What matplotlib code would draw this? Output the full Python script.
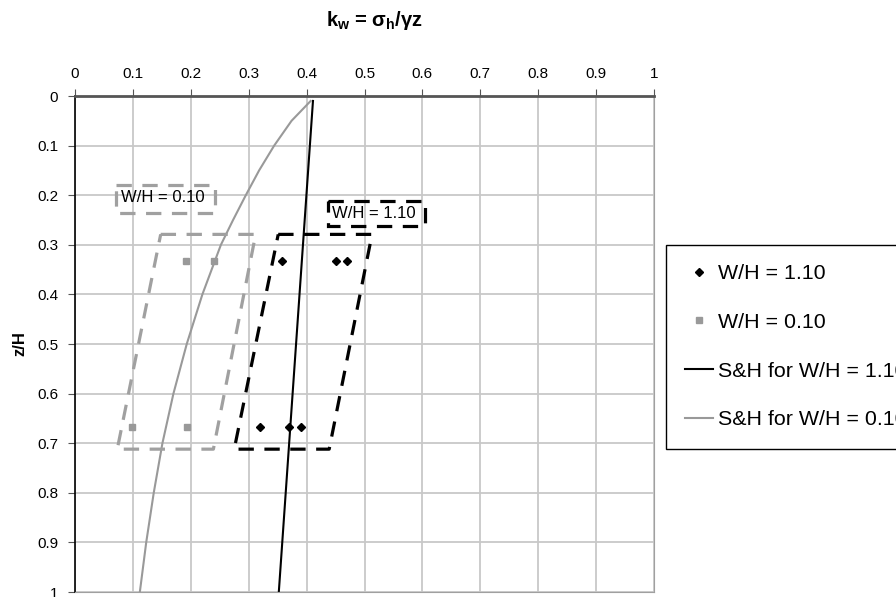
import numpy as np
import matplotlib.pyplot as plt
from matplotlib.patches import Rectangle

plt.rcParams['font.family'] = ['Liberation Sans', 'DejaVu Sans']

# measured points, z/H vs k_w
wh110_k = [0.358, 0.450, 0.469, 0.320, 0.370, 0.390]
wh110_z = [0.333, 0.333, 0.333, 0.667, 0.667, 0.667]
wh010_k = [0.191, 0.240, 0.098, 0.194]
wh010_z = [0.333, 0.333, 0.667, 0.667]

# S&H curves
sh110_k = [0.411, 0.352]
sh110_z = [0.01, 1.0]
sh010_k = [0.407, 0.374, 0.344, 0.318, 0.295, 0.273, 0.252, 0.220, 0.193, 0.170,
           0.151, 0.136, 0.123, 0.112]
sh010_z = [0.01, 0.05, 0.1, 0.15, 0.2, 0.25, 0.3, 0.4, 0.5, 0.6,
           0.7, 0.8, 0.9, 1.0]

# dashed outlines drawn around each group (corners)
grp010_k = [0.148, 0.312, 0.239, 0.073, 0.148]
grp010_z = [0.279, 0.279, 0.712, 0.712, 0.279]
grp110_k = [0.351, 0.513, 0.439, 0.275, 0.351]
grp110_z = [0.279, 0.279, 0.712, 0.712, 0.279]

ticks = [0, 0.1, 0.2, 0.3, 0.4, 0.5, 0.6, 0.7, 0.8, 0.9, 1]
tick_labels = ['0', '0.1', '0.2', '0.3', '0.4', '0.5', '0.6', '0.7', '0.8', '0.9', '1']

grey = '#999999'
dash = (0, (4.8, 3.3))

fig = plt.figure(figsize=(8.96, 5.97), dpi=100)
ax = fig.add_axes([75 / 896, 5 / 597, 579 / 896, 496 / 597])

ax.plot(wh110_k, wh110_z, 'D', color='black', ms=4, ls='none', label='W/H = 1.10')
ax.plot(wh010_k, wh010_z, 's', color=grey, ms=5, ls='none', label='W/H = 0.10')
ax.plot(sh110_k, sh110_z, color='black', lw=1.5, label='S&H for W/H = 1.10')
ax.plot(sh010_k, sh010_z, color=grey, lw=1.5, label='S&H for W/H = 0.10')

ax.plot(grp010_k, grp010_z, color='#a0a0a0', lw=2.3, ls=dash)
ax.plot(grp110_k, grp110_z, color='black', lw=2.3, ls=dash)

# label boxes
ax.add_patch(Rectangle((0.0715, 0.18), 0.17, 0.056, fill=False, ec='#a0a0a0', lw=2.3, ls=dash))
ax.text(0.079, 0.205, 'W/H = 0.10', fontsize=12, va='center', ha='left')
ax.add_patch(Rectangle((0.437, 0.212), 0.167, 0.051, fill=False, ec='black', lw=2.3, ls=dash))
ax.text(0.444, 0.236, 'W/H = 1.10', fontsize=12, va='center', ha='left')

ax.set_xlim(0, 1)
ax.set_ylim(1, 0)
ax.xaxis.tick_top()
ax.set_xticks(ticks)
ax.set_xticklabels(tick_labels)
ax.set_yticks(ticks)
ax.set_yticklabels(tick_labels)
ax.tick_params(axis='both', labelsize=11, length=5, direction='out', color='#555555')
ax.tick_params(axis='x', pad=6)
ax.tick_params(axis='y', pad=7)
ax.grid(True, color='#c8c8c8', lw=1.3)
ax.set_axisbelow(True)

ax.spines['top'].set_color('#555555')
ax.spines['top'].set_linewidth(2)
ax.spines['left'].set_color('black')
ax.spines['left'].set_linewidth(1.2)
ax.spines['right'].set_color('#a0a0a0')
ax.spines['bottom'].set_color('#a0a0a0')

ax.set_ylabel('z/H', fontsize=12, fontweight='bold', labelpad=7)
fig.text(374 / 896, 0.965, r'k$_\mathregular{w}$ = σ$_\mathregular{h}$/γz', fontsize=14.5,
         fontweight='bold', ha='center', va='center')

fig.legend(loc='upper left', bbox_to_anchor=(666 / 896, 1 - 245 / 597), fontsize=15.4,
           frameon=True, fancybox=False, edgecolor='black', framealpha=1,
           numpoints=1, handlelength=1.3, handletextpad=0.25, labelspacing=1.39,
           borderpad=0.9, borderaxespad=0)

fig.savefig('out.png', dpi=100)
